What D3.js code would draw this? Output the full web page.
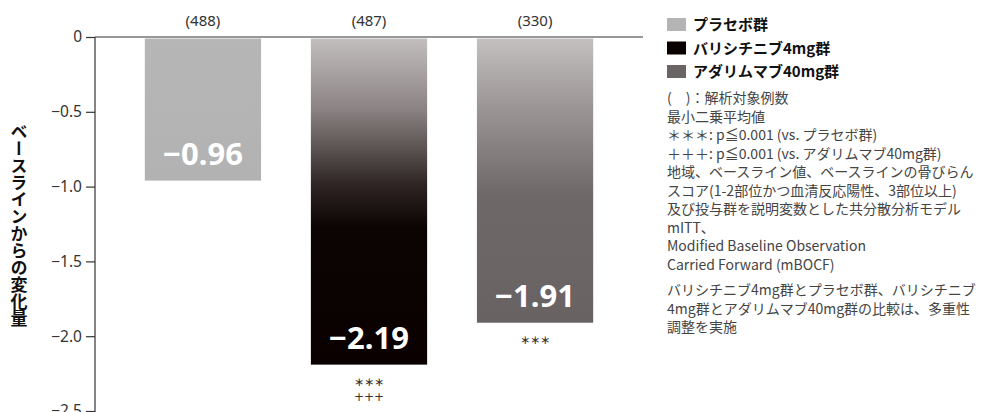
<!DOCTYPE html>
<html><head><meta charset="utf-8">
<script src="https://cdn.jsdelivr.net/npm/d3@7"></script>
<style>
html,body{margin:0;padding:0;background:#fff;}
svg{display:block;}
text{font-family:"Noto Sans CJK JP","Noto Sans",sans-serif;}
</style></head>
<body>
<svg id="chart" width="986" height="412"></svg>
<script>
const categories = ["プラセボ群", "バリシチニブ4mg群", "アダリムマブ40mg群"];
const values = [-0.96, -2.19, -1.91];
const valueLabels = ["−0.96", "−2.19", "−1.91"];
const nLabels = ["(488)", "(487)", "(330)"];
const sigLabels = [[], ["∗∗∗", "+++"], ["∗∗∗"]];
const yTicks = [0, -0.5, -1.0, -1.5, -2.0, -2.5];
const yTickLabels = ["0", "−0.5", "−1.0", "−1.5", "−2.0", "−2.5"];
const yTitle = "ベースラインからの変化量";
const notes1 = [
  "(　)：解析対象例数",
  "最小二乗平均値",
  "＊＊＊: p≦0.001 (vs. プラセボ群)",
  "＋＋＋: p≦0.001 (vs. アダリムマブ40mg群)",
  "地域、ベースライン値、ベースラインの骨びらん",
  "スコア(1-2部位かつ血清反応陽性、3部位以上)",
  "及び投与群を説明変数とした共分散分析モデル",
  "mITT、",
  "Modified Baseline Observation",
  "Carried Forward (mBOCF)"
];
const notes2 = [
  "バリシチニブ4mg群とプラセボ群、バリシチニブ",
  "4mg群とアダリムマブ40mg群の比較は、多重性",
  "調整を実施"
];

const latin = "\"Noto Sans\", \"Open Sans\", sans-serif";
const svg = d3.select("#chart");
const x = d3.scaleBand().domain(categories).range([95, 643]).paddingInner(0.3).paddingOuter(0.3);
const y = d3.scaleLinear().domain([0, -2.5]).range([37, 411]);

// gradients
const defs = svg.append("defs");
const grads = [
  [[0, "#b6b6b6"], [1, "#b2b2b2"]],
  [[0, "#c2bebe"], [0.22, "#8a8282"], [0.45, "#2e2424"], [0.58, "#0c0303"], [1, "#0a0000"]],
  [[0, "#c4c0c0"], [0.25, "#9a9494"], [0.55, "#6e6869"], [1, "#686263"]]
];
grads.forEach((stops, i) => {
  const g = defs.append("linearGradient").attr("id", "g" + i)
    .attr("x1", 0).attr("y1", 0).attr("x2", 0).attr("y2", 1);
  stops.forEach(s => g.append("stop").attr("offset", s[0]).attr("stop-color", s[1]));
});
const legendColors = ["#b4b4b4", "#0a0000", "#6a6465"];

// bars
svg.selectAll("rect.bar").data(values).enter().append("rect")
  .attr("class", "bar")
  .attr("x", (d, i) => x(categories[i]))
  .attr("width", x.bandwidth())
  .attr("y", y(0) + 1.5)
  .attr("height", d => y(d) - y(0) - 1.5)
  .attr("fill", (d, i) => `url(#g${i})`);

// value labels
svg.selectAll("text.val").data(values).enter().append("text")
  .attr("x", (d, i) => x(categories[i]) + x.bandwidth() / 2)
  .attr("y", d => y(d) - 16)
  .attr("text-anchor", "middle")
  .style("font-family", latin)
  .attr("font-size", 31).attr("font-weight", 700).attr("fill", "#fff")
  .text((d, i) => valueLabels[i]);

// n labels
svg.selectAll("text.n").data(nLabels).enter().append("text")
  .attr("x", (d, i) => x(categories[i]) + x.bandwidth() / 2)
  .attr("y", 26)
  .attr("text-anchor", "middle")
  .style("font-family", latin)
  .attr("font-size", 15).attr("fill", "#333")
  .text(d => d);

// significance
sigLabels.forEach((arr, i) => {
  arr.forEach((s, j) => {
    svg.append("text")
      .attr("x", x(categories[i]) + x.bandwidth() / 2)
      .attr("y", y(values[i]) + 21 + j * 15)
      .attr("text-anchor", "middle")
      .style("font-family", "\"DejaVu Sans\", sans-serif")
      .attr("font-size", 12).attr("fill", "#333")
      .text(s);
  });
});

// y axis
const yAxis = d3.axisLeft(y).tickValues(yTicks).tickSize(9).tickPadding(4)
  .tickFormat((d, i) => yTickLabels[i]);
const ga = svg.append("g").attr("transform", "translate(95,0)").call(yAxis);
ga.select(".domain").remove();
ga.selectAll(".tick line").attr("stroke", "#333").attr("stroke-width", 1.2);
ga.selectAll(".tick text").attr("font-size", 15.5).attr("fill", "#333")
  .style("font-family", latin);
svg.append("line").attr("x1", 95).attr("x2", 95).attr("y1", y(0)).attr("y2", 412)
  .attr("stroke", "#333").attr("stroke-width", 1.2);
svg.append("line").attr("x1", 95).attr("x2", 643).attr("y1", y(0)).attr("y2", y(0))
  .attr("stroke", "#333").attr("stroke-width", 1.2);

// y title vertical
svg.append("text")
  .attr("x", 19).attr("y", 225)
  .attr("text-anchor", "middle")
  .style("writing-mode", "vertical-rl")
  .attr("font-size", 17).attr("font-weight", 700).attr("fill", "#111")
  .text(yTitle);

// legend
const lg = svg.append("g");
categories.forEach((c, i) => {
  lg.append("rect").attr("x", 667).attr("y", 18 + i * 23.5).attr("width", 19).attr("height", 13)
    .attr("fill", legendColors[i]);
  lg.append("text").attr("x", 693).attr("y", 30 + i * 23.5)
    .attr("font-size", 15).attr("font-weight", 700).attr("fill", "#111").text(c);
});

// notes
notes1.forEach((t, i) => {
  svg.append("text").attr("x", 667).attr("y", 103 + i * 18.5)
    .attr("font-size", 14).attr("fill", "#444").text(t);
});
notes2.forEach((t, i) => {
  svg.append("text").attr("x", 667).attr("y", 295 + i * 18.5)
    .attr("font-size", 14).attr("fill", "#444").text(t);
});
</script>
</body></html>
